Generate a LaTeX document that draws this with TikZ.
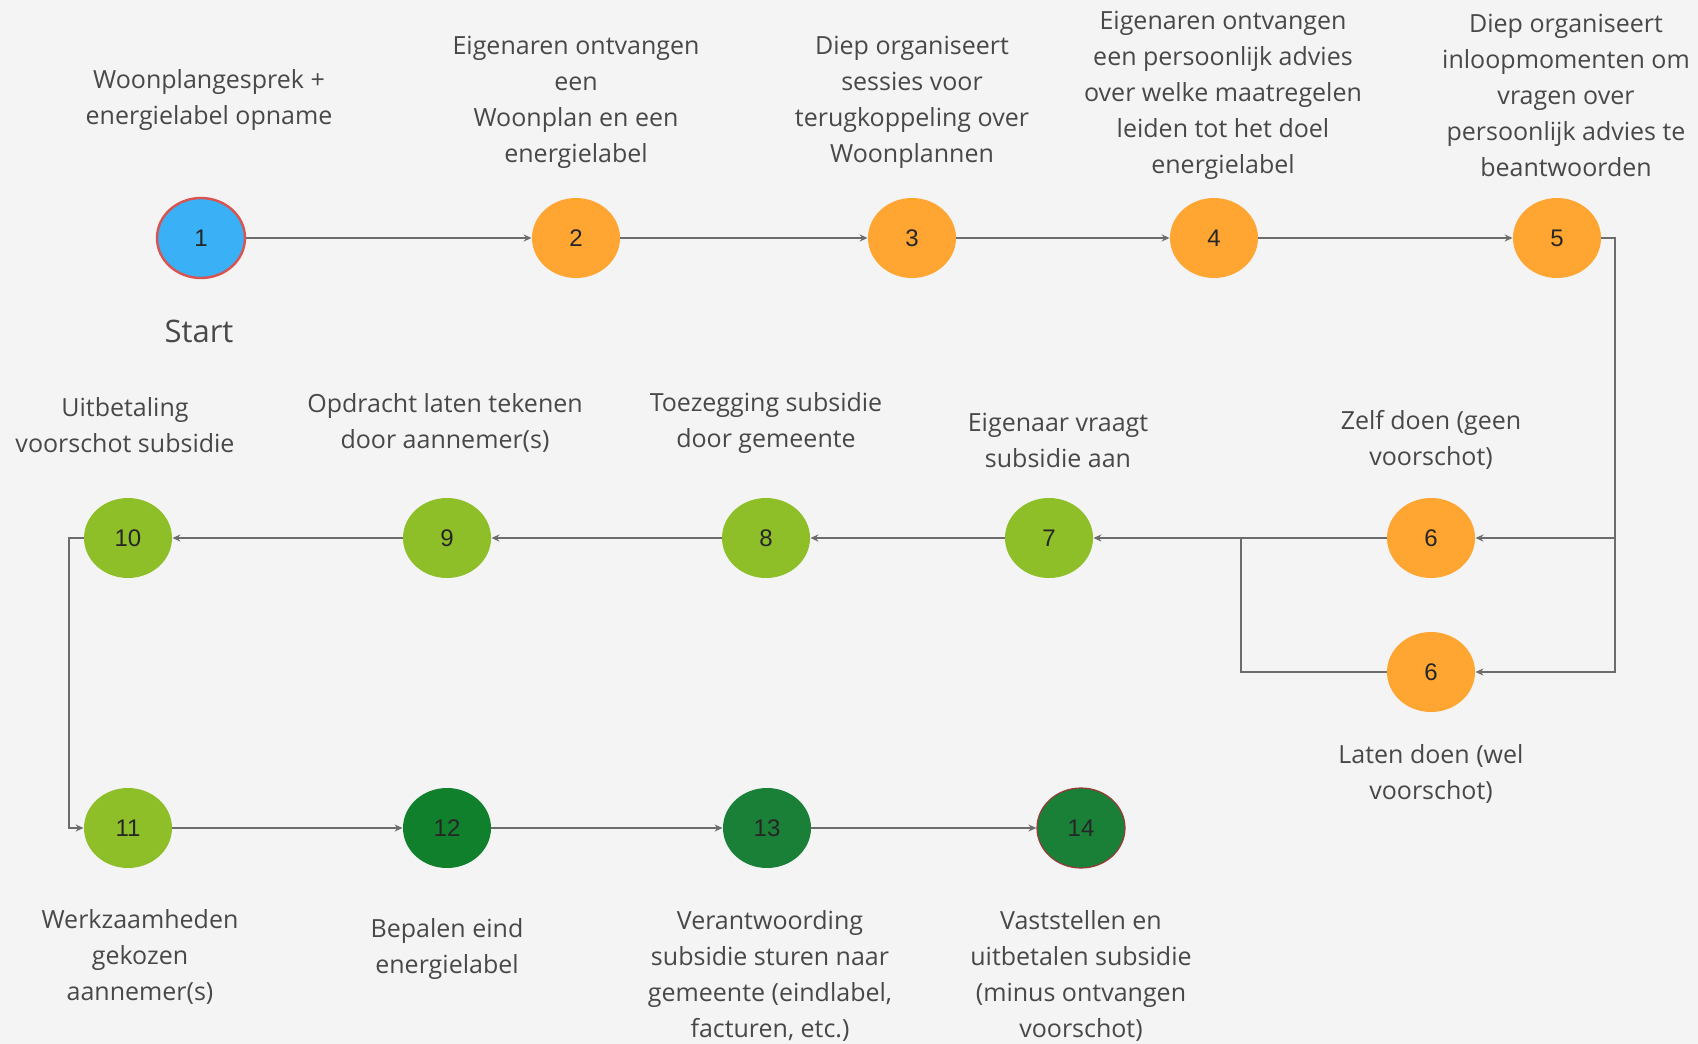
\documentclass[tikz,border=0pt]{standalone}
\usepackage{fontspec}
\setmainfont{Open Sans}
\newfontfamily\numfont{Liberation Sans}
\usetikzlibrary{shapes.geometric,arrows.meta}
\definecolor{bg}{HTML}{F4F4F4}
\definecolor{txt}{HTML}{484848}
\definecolor{ln}{HTML}{6C6C6C}
\definecolor{cblue}{HTML}{3AB0F6}
\definecolor{corange}{HTML}{FFA531}
\definecolor{clime}{HTML}{8EBF28}
\definecolor{cdg}{HTML}{10802C}
\definecolor{cmg}{HTML}{1A8038}
\definecolor{cred}{HTML}{D9534F}
\tikzset{
  stepnode/.style={ellipse, minimum width=44pt, minimum height=40pt, inner sep=0pt,
    font=\numfont\fontsize{12}{14}\selectfont, text=black!85},
  lbl/.style={align=center, font=\fontsize{12.5}{18}\selectfont, text=txt, inner sep=0pt},
  arr/.style={draw=ln, line width=1.1pt, -{Stealth[length=4pt,width=3.5pt]}},
  conn/.style={draw=ln, line width=1.1pt}
}
\begin{document}
\begin{tikzpicture}[x=0.5pt,y=-0.5pt]
\fill[bg] (0,0) rectangle (1698,1044);
\useasboundingbox (0,0) rectangle (1698,1044);

% row 1
\node[stepnode, fill=cblue, draw=cred, line width=1.2pt] (n1) at (201,238) {1};
\node[stepnode, fill=corange] (n2) at (576,238) {2};
\node[stepnode, fill=corange] (n3) at (912,238) {3};
\node[stepnode, fill=corange] (n4) at (1214,238) {4};
\node[stepnode, fill=corange] (n5) at (1557,238) {5};
% row 2
\node[stepnode, fill=corange] (n6a) at (1431,538) {6};
\node[stepnode, fill=corange] (n6b) at (1431,672) {6};
\node[stepnode, fill=clime] (n7) at (1049,538) {7};
\node[stepnode, fill=clime] (n8) at (766,538) {8};
\node[stepnode, fill=clime] (n9) at (447,538) {9};
\node[stepnode, fill=clime] (n10) at (128,538) {10};
% row 3
\node[stepnode, fill=clime] (n11) at (128,828) {11};
\node[stepnode, fill=cdg] (n12) at (447,828) {12};
\node[stepnode, fill=cmg] (n13) at (767,828) {13};
\node[stepnode, fill=cmg, draw=cred!70!black, line width=0.6pt] (n14) at (1081,828) {14};

% labels
\node[lbl] (t1) at (209,100) {Woonplangesprek +\\energielabel opname};
\node[lbl, font=\fontsize{15.5}{18}\selectfont] (ts) at (199,331) {Start};
\node[lbl] (t2) at (576,102) {Eigenaren ontvangen\\een\\Woonplan en een\\energielabel};
\node[lbl] (t3) at (912,102) {Diep organiseert\\sessies voor\\terugkoppeling over\\Woonplannen};
\node[lbl] (t4) at (1223,95.5) {Eigenaren ontvangen\\een persoonlijk advies\\over welke maatregelen\\leiden tot het doel\\energielabel};
\node[lbl] (t5) at (1566,95.5) {Diep organiseert\\inloopmomenten om\\vragen over\\persoonlijk advies te\\beantwoorden};
\node[lbl] (t10) at (125,425) {Uitbetaling\\voorschot subsidie};
\node[lbl] (t9) at (445,423) {Opdracht laten tekenen\\door aannemer(s)};
\node[lbl] (t8) at (766,423) {Toezegging subsidie\\door gemeente};
\node[lbl] (t7) at (1058,440) {Eigenaar vraagt\\subsidie aan};
\node[lbl] (t6a) at (1431,440) {Zelf doen (geen\\voorschot)};
\node[lbl] (t6b) at (1431,773.5) {Laten doen (wel\\voorschot)};
\node[lbl] (t11) at (140,957) {Werkzaamheden\\gekozen\\aannemer(s)};
\node[lbl] (t12) at (447,949) {Bepalen eind\\energielabel};
\node[lbl] (t13) at (770,976) {Verantwoording\\subsidie sturen naar\\gemeente (eindlabel,\\facturen, etc.)};
\node[lbl] (t14) at (1081,976) {Vaststellen en\\uitbetalen subsidie\\(minus ontvangen\\voorschot)};

% coordinates
\coordinate (r5) at (1615,538);
\coordinate (r6) at (1615,672);
\coordinate (j) at (1241,538);
\coordinate (l10) at (69,538);
\coordinate (l11) at (69,828);

% connectors
\draw[arr] (n1) -- (n2);
\draw[arr] (n2) -- (n3);
\draw[arr] (n3) -- (n4);
\draw[arr] (n4) -- (n5);
\draw[arr] (n5.east) -| (r5) -- (n6a.east);
\draw[arr] (r5) -- (r6) -- (n6b.east);
\draw[arr] (n6a.west) -- (n7.east);
\draw[conn] (n6b.west) -| (j);
\draw[arr] (n7) -- (n8);
\draw[arr] (n8) -- (n9);
\draw[arr] (n9) -- (n10);
\draw[arr] (n10.west) -- (l10) -- (l11) -- (n11.west);
\draw[arr] (n11) -- (n12);
\draw[arr] (n12) -- (n13);
\draw[arr] (n13) -- (n14);
\end{tikzpicture}
\end{document}
